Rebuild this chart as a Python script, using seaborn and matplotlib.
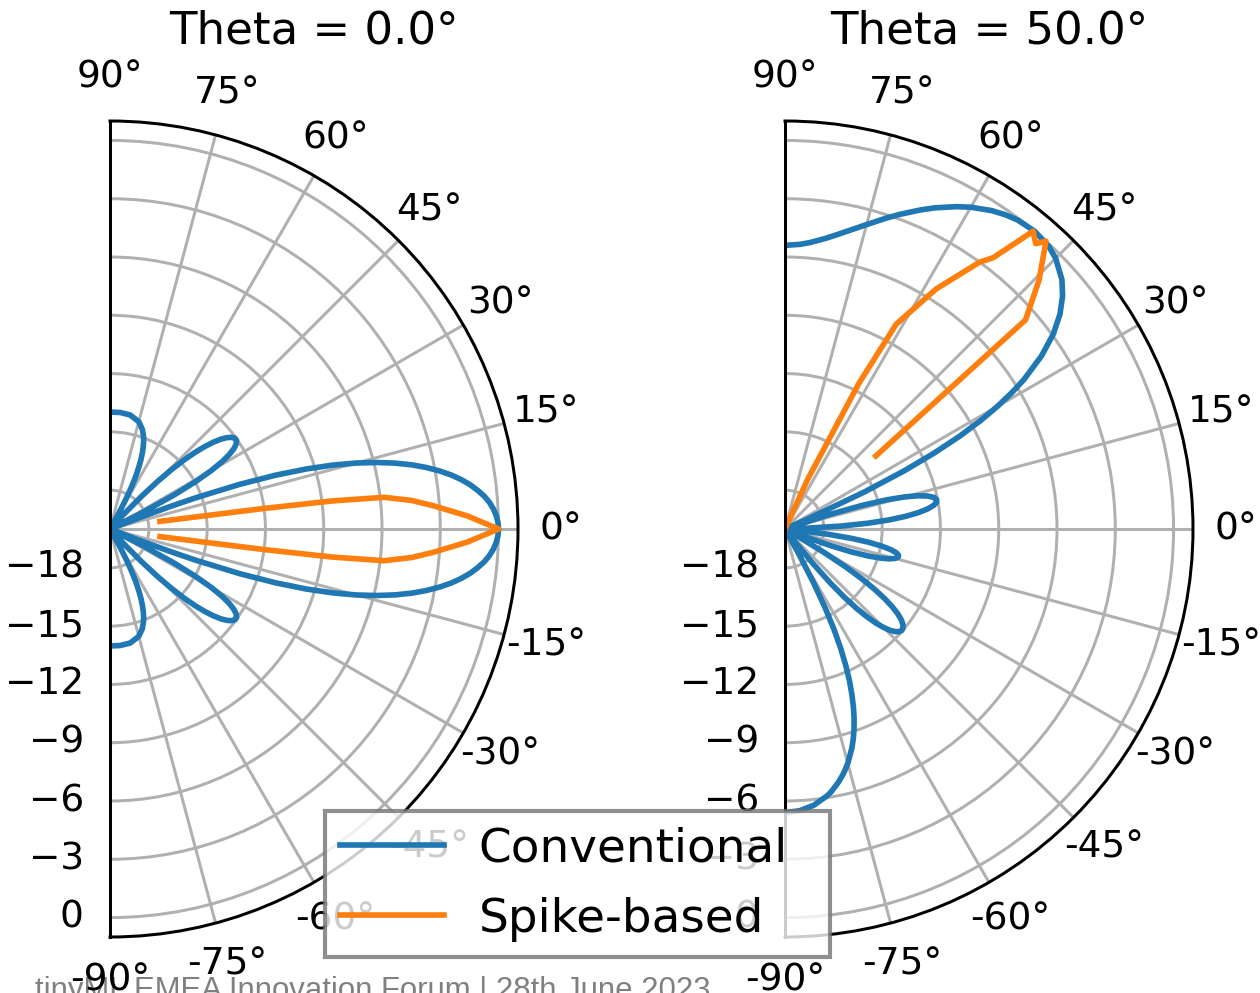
import numpy as np
import pandas as pd
import matplotlib
matplotlib.use("Agg")
import matplotlib.pyplot as plt
import seaborn as sns

# ---- beam patterns (azimuth in degrees, normalised gain in dB, floor at -20 dB) ----
conv_0_angle = [-90, -85, -80, -75, -72, -70, -69, -68, -67, -66, -65, -64, -63, -62, -61, -59.9,
                -47.8, -47, -46, -45, -44, -43, -42, -41, -40, -39, -38, -37, -36, -35,
                -34, -33, -32, -31, -30, -29, -28, -27, -26.4,
                -21.4, -21, -20.5, -20, -19, -18, -17, -16, -15, -14, -13, -12, -11,
                -10, -9, -8, -7, -6, -5, -4, -3, -2, -1, 0,
                1, 2, 3, 4, 5, 6, 7, 8, 9, 10, 11, 12, 13, 14, 15, 16, 17, 18, 19,
                20, 20.5, 21, 21.4,
                26.4, 27, 28, 29, 30, 31, 32, 33, 34, 35, 36, 37, 38, 39, 40, 41, 42,
                43, 44, 45, 46, 47, 47.8,
                59.9, 61, 62, 63, 64, 65, 66, 67, 68, 69, 70, 72, 75, 80, 85, 90]
conv_0_gain = [-13.98, -13.98, -14.04, -14.28, -14.61, -14.95, -15.17, -15.43, -15.73, -16.08, -16.49, -16.96,
               -17.52, -18.18, -18.95, -20,
               -20, -18.97, -17.66, -16.55, -15.61, -14.79, -14.10, -13.52, -13.04, -12.65, -12.36, -12.16, -12.05, -12.05,
               -12.16, -12.39, -12.75, -13.26, -13.98, -14.94, -16.22, -18.0, -20,
               -20, -18.4, -16.72, -15.29, -12.94, -11.03, -9.43, -8.07, -6.88, -5.85, -4.93, -4.12, -3.41,
               -2.78, -2.22, -1.74, -1.32, -0.97, -0.66, -0.42, -0.24, -0.11, -0.03, 0.0,
               -0.03, -0.11, -0.24, -0.42, -0.66, -0.97, -1.32, -1.74, -2.22, -2.78, -3.41, -4.12, -4.93, -5.85,
               -6.88, -8.07, -9.43, -11.03, -12.94,
               -15.29, -16.72, -18.4, -20,
               -20, -18.0, -16.22, -14.94, -13.98, -13.26, -12.75, -12.39, -12.16, -12.05, -12.05, -12.16, -12.36,
               -12.65, -13.04, -13.52, -14.10,
               -14.79, -15.61, -16.55, -17.66, -18.97, -20,
               -20, -18.95, -18.18, -17.52, -16.96, -16.49, -16.08, -15.73, -15.43, -15.17, -14.95, -14.61,
               -14.28, -14.04, -13.98, -13.98]

spike_0_angle = [-8.7, -7.6, -7.2, -6.6, -5.4, -4.1, -2.1, 0, 2.1, 4.1, 5.4, 6.6, 7.2, 7.6, 8.7]
spike_0_gain = [-17.4, -12.0, -8.5, -5.8, -4.4, -3.3, -1.6, 0.0, -1.6, -3.3, -4.4, -5.8, -8.5, -12.0, -17.4]

conv_50_angle = [-90, -87, -84, -81, -80, -78, -76.5, -75, -73, -72, -71, -70, -69, -68, -67, -66,
                 -65, -64, -63, -62, -61, -60.35,
                 -52.4, -52, -51, -50, -49, -48, -47, -46, -45, -44, -43, -42, -41, -40, -39, -38,
                 -37, -36, -35, -34, -33, -32, -31, -30, -29.7,
                 -21.6, -21, -20, -19, -18, -17, -16, -15, -14, -13, -12, -11, -10, -9, -8, -7, -6, -5.7,
                 1.6, 2, 3, 4, 5, 6, 7, 8, 9, 10, 11, 12, 13, 14, 15, 16, 17, 18, 18.95,
                 23.65, 24, 25, 26, 27, 28, 29, 30, 31, 32, 34, 36, 38, 40, 42, 45, 47, 50,
                 53, 55, 57, 60, 62, 65, 67, 70, 72, 75, 77, 80, 82, 85, 87, 90]
conv_50_gain = [-5.40, -5.48, -5.71, -6.10, -6.27, -6.70, -7.07, -7.51, -8.22, -8.63, -9.09, -9.60, -10.17,
                -10.81, -11.50, -12.31,
                -13.20, -14.24, -15.45, -16.89, -18.61, -20,
                -20, -19.2, -17.66, -16.38, -15.36, -14.52, -13.84, -13.28, -12.84, -12.50, -12.26, -12.10,
                -12.04, -12.07, -12.19, -12.40,
                -12.72, -13.15, -13.70, -14.39, -15.24, -16.30, -17.62, -19.30, -20,
                -20, -18.86, -17.45, -16.36, -15.53, -14.89, -14.43, -14.14, -14.0, -14.0, -14.15, -14.47,
                -14.96, -15.64, -16.56, -17.76, -19.37, -20,
                -20, -18.94, -17.12, -15.71, -14.61, -13.75, -13.08, -12.59, -12.26, -12.08, -12.05, -12.17,
                -12.46, -12.93, -13.61, -14.55, -15.84, -17.6, -20,
                -20, -18.61, -15.51, -13.19, -11.35, -9.80, -8.50, -7.37, -6.39, -5.51, -4.08, -2.93, -2.04,
                -1.35, -0.82, -0.30, -0.10, 0.0,
                -0.09, -0.25, -0.46, -0.875, -1.21, -1.76, -2.16, -2.77, -3.18, -3.78, -4.14, -4.62, -4.89,
                -5.20, -5.33, -5.40]

spike_50_angle = [38.8, 41.0, 44.4, 47.8, 48.7, 50.2, 52.5, 53.9, 57.8, 61.5, 63.1, 65.5, 66.3]
spike_50_gain = [-14.0, -3.6, -1.7, 0.0, -0.45, -0.05, -2.4, -3.0, -5.4, -8.0, -11.6, -17.2, -20.0]

panel_titles = ["Theta = 0.0°", "Theta = 50.0°"]
series_labels = ["Conventional", "Spike-based"]
r_ticks = [-18, -15, -12, -9, -6, -3, 0]
theta_ticks = list(range(-90, 91, 15))
footer_text = "tinyML EMEA Innovation Forum | 28th June 2023"

BLUE = "#1f77b4"
ORANGE = "#ff7f0e"

W, H, DPI = 1260, 993, 270
fig = plt.figure(figsize=(W / DPI, H / DPI), dpi=DPI)

# each half-disc sits centred inside a square axes box of side 2R
R = 408
side = 2 * R
bottom = 56
panels = [
    (110, panel_titles[0], (conv_0_angle, conv_0_gain), (spike_0_angle, spike_0_gain)),
    (785, panel_titles[1], (conv_50_angle, conv_50_gain), (spike_50_angle, spike_50_gain)),
]

axes = []
for x_origin, title, conv, spike in panels:
    left = x_origin + R / 2 - side / 2
    pos = [left / W, bottom / H, side / W, side / H]
    ax = fig.add_axes(pos, projection="polar")
    for (ang, gain), col, lab in ((conv, BLUE, series_labels[0]), (spike, ORANGE, series_labels[1])):
        df = pd.DataFrame({"theta": np.deg2rad(ang), "gain": gain})
        sns.lineplot(data=df, x="theta", y="gain", ax=ax, color=col, linewidth=1.5,
                     sort=False, estimator=None, label=lab, legend=False)
    ax.set_thetamin(-90)
    ax.set_thetamax(90)
    ax.set_rlim(-20, 1)
    ax.set_rticks(r_ticks)
    ax.set_thetagrids(theta_ticks)
    ax.tick_params(axis="x", pad=1.0)
    ax.set_xlabel("")
    ax.set_ylabel("")
    ax.set_title(title, y=(H - 44 - bottom) / side, pad=0)
    axes.append(ax)

handles = axes[0].get_lines()[:2]
leg = fig.legend(handles, series_labels, loc="center",
                 bbox_to_anchor=(325 / W, 35 / H, 505 / W, 148 / H), mode="expand",
                 fontsize=12.5, frameon=True, fancybox=False, framealpha=0.8, edgecolor="0.45",
                 borderpad=0.33, labelspacing=0.55, handlelength=2.2, handletextpad=0.75,
                 borderaxespad=0)
leg.get_frame().set_linewidth(1.1)

fig.text(35 / W, -0.006, footer_text, fontsize=8.3, family="Liberation Sans",
         color="0.5", ha="left", va="baseline", zorder=-1)

fig.savefig("out.png", dpi=DPI)
